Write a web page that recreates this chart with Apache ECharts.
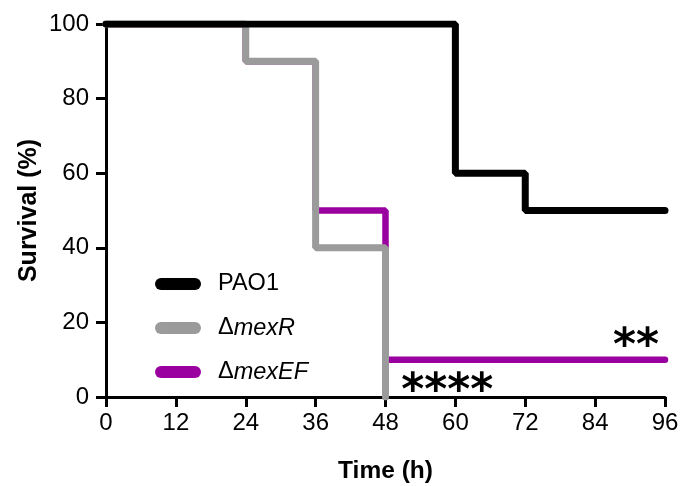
<!DOCTYPE html>
<html>
<head>
<meta charset="utf-8">
<script src="https://cdn.jsdelivr.net/npm/echarts@6/dist/echarts.min.js"></script>
<style>
  html, body { margin: 0; padding: 0; background: #fff; }
  #graphic-survie { width: 682px; height: 486px; }
</style>
</head>
<body>
<div id="graphic-survie"></div>
<script>
// Données de survie (step 'end' : palier horizontal puis chute)
const xTicks = [0, 12, 24, 36, 48, 60, 72, 84, 96];
const seriesNames = ['PAO1', 'ΔmexR', 'ΔmexEF'];
const pao1 = [[0, 100], [60, 60], [72, 50], [96, 50]];
const mexR = [[0, 100], [24, 90], [36, 40], [48, 0]];
const mexEF = [[0, 100], [24, 90], [36, 50], [48, 10], [96, 10]];
// Annotations de significativité
const stars = [
    { text: '****', coord: [58.6, 1.3] },
    { text: '**', coord: [91, 13.3] }
];

const couleurs = ['#000000', '#9b9b9b', '#9a00a0'];
const pill = 'path://M6,0 L40,0 A6,6 0 0 1 40,12 L6,12 A6,6 0 0 1 6,0 Z';

const chart = echarts.init(document.getElementById('graphic-survie'), null, { renderer: 'canvas' });

const police = 'Liberation Sans, Arial, sans-serif';

const option = {
    animation: false,
    grid: { left: 106, right: 17, top: 24, bottom: 89, outerBoundsMode: 'none', containLabel: false },
    legend: {
        orient: 'vertical',
        left: 150,
        top: 267,
        itemWidth: 46,
        itemHeight: 12,
        itemGap: 20,
        data: seriesNames.map((n, i) => ({ name: n, icon: pill, itemStyle: { color: couleurs[i] } })),
        formatter: function(name) {
            if (name.charAt(0) === 'Δ') {
                return '{d|Δ}{i|' + name.slice(1) + '}';
            }
            return '{d|' + name + '}';
        },
        textStyle: {
            padding: [0, 0, 0, 12],
            rich: {
                d: { fontSize: 23.5, fontFamily: police, color: '#000' },
                i: { fontSize: 23.5, fontFamily: police, fontStyle: 'italic', color: '#000' }
            }
        }
    },
    xAxis: {
        type: 'value',
        min: 0,
        max: 96,
        interval: 12,
        name: 'Time (h)',
        nameLocation: 'middle',
        nameGap: 62,
        nameMoveOverlap: false,
        nameTextStyle: { fontSize: 24.5, fontWeight: 'bold', fontFamily: police, color: '#000' },
        splitLine: { show: false },
        axisLine: { lineStyle: { color: '#000', width: 3 } },
        axisTick: { inside: false, length: 10, lineStyle: { color: '#000', width: 3 } },
        axisLabel: {
            fontSize: 24, fontFamily: police, color: '#000', margin: 14,
            formatter: v => (xTicks.indexOf(v) >= 0 ? String(v) : '')
        }
    },
    yAxis: {
        type: 'value',
        min: 0,
        max: 100,
        interval: 20,
        name: 'Survival (%)',
        nameLocation: 'middle',
        nameGap: 64,
        nameMoveOverlap: false,
        nameTextStyle: { fontSize: 25, fontWeight: 'bold', fontFamily: police, color: '#000' },
        splitLine: { show: false },
        axisLine: { show: true, lineStyle: { color: '#000', width: 3 } },
        axisTick: { show: true, inside: false, length: 10, lineStyle: { color: '#000', width: 3 } },
        axisLabel: { fontSize: 24, fontFamily: police, color: '#000', margin: 17 }
    },
    series: [
        {
            name: 'ΔmexEF',
            type: 'line',
            step: 'end',
            data: mexEF,
            symbol: 'none',
            z: 2,
            color: couleurs[2],
            lineStyle: { color: couleurs[2], width: 6.5, cap: 'round', join: 'bevel' },
            markPoint: {
                symbol: 'circle',
                symbolSize: 1,
                itemStyle: { color: 'rgba(0,0,0,0)' },
                label: {
                    show: true,
                    position: 'inside',
                    fontSize: 44,
                    fontWeight: 'bold',
                    fontFamily: 'DejaVu Sans',
                    color: '#000',
                    formatter: p => p.name
                },
                data: stars.map(s => ({ name: s.text, coord: s.coord }))
            }
        },
        {
            name: 'ΔmexR',
            type: 'line',
            step: 'end',
            data: mexR,
            symbol: 'none',
            z: 3,
            color: couleurs[1],
            lineStyle: { color: couleurs[1], width: 7, cap: 'round', join: 'bevel' }
        },
        {
            name: 'PAO1',
            type: 'line',
            step: 'end',
            data: pao1,
            symbol: 'none',
            z: 4,
            color: couleurs[0],
            lineStyle: { color: couleurs[0], width: 7, cap: 'round', join: 'bevel' }
        }
    ]
};

if (option && typeof option === 'object') {
    chart.setOption(option);
}

window.addEventListener('resize', chart.resize);
</script>
</body>
</html>
